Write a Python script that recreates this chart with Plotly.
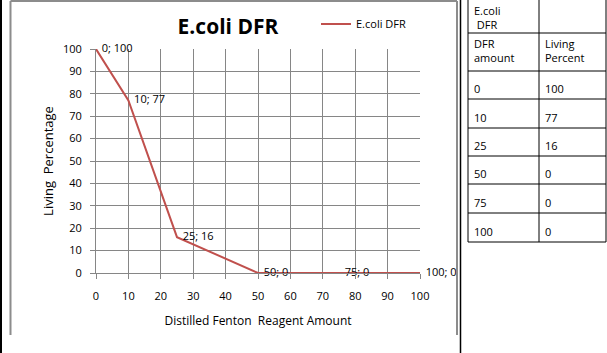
import plotly.graph_objects as go

dfr_amount = [0, 10, 25, 50, 75, 100]
living_percent = [100, 77, 16, 0, 0, 0]
series_name = "E.coli DFR"
x_ticks = [0, 10, 20, 30, 40, 50, 60, 70, 80, 90, 100]
y_ticks = [0, 10, 20, 30, 40, 50, 60, 70, 80, 90, 100]
table_header = [["E.coli<br> DFR", ""], ["DFR<br>amount", "Living<br>Percent"]]

W, H = 607, 353
PL, PR, PT, PB = 96, 420, 49, 273
FONT = "Open Sans"
PAD = "\u00a0\u00a0"
labels = [f"{PAD}{a}; {b}" for a, b in zip(dfr_amount, living_percent)]


def px(x):
    return (x - PL) / (PR - PL)


def py(y):
    return (PB - y) / (PB - PT)


fig = go.Figure()
fig.add_trace(go.Scatter(
    x=dfr_amount, y=living_percent, mode="lines+text", name=series_name,
    line=dict(color="#C0504D", width=2),
    text=labels, textposition="middle right",
    textfont=dict(family=FONT, size=11, color="#000000"),
    cliponaxis=False,
))

grid = "#868686"
fig.update_layout(
    width=W, height=H, autosize=False,
    margin=dict(l=PL, r=W - PR, t=PT, b=H - PB, autoexpand=False),
    paper_bgcolor="white", plot_bgcolor="white",
    font=dict(family=FONT, size=11, color="#000000"),
    title=dict(text="<b>E.coli DFR</b>", x=228 / W, xanchor="center",
               y=1 - 27 / H, yanchor="middle", xref="container", yref="container",
               font=dict(family=FONT, size=21, color="#000000")),
    showlegend=True,
    legend=dict(x=px(316), y=py(24), xanchor="left", yanchor="middle",
                xref="paper", yref="paper", bgcolor="rgba(0,0,0,0)",
                font=dict(family=FONT, size=11), itemwidth=30,
                tracegroupgap=0),
    xaxis=dict(range=[0, 100], tickvals=x_ticks, showgrid=True, gridcolor=grid,
               gridwidth=1, zeroline=False, showline=True, linecolor=grid,
               ticks="outside", ticklen=5, tickcolor=grid,
               ticklabelstandoff=8,
               tickfont=dict(family=FONT, size=11),
               title=dict(text="Distilled Fenton  Reagent Amount",
                          font=dict(family=FONT, size=12), standoff=14)),
    yaxis=dict(range=[0, 100], tickvals=y_ticks, showgrid=True, gridcolor=grid,
               gridwidth=1, zeroline=False, showline=True, linecolor=grid,
               ticks="outside", ticklen=5, tickcolor=grid,
               ticklabelstandoff=6,
               tickfont=dict(family=FONT, size=11),
               title=dict(text="Living  Percentage",
                          font=dict(family=FONT, size=13), standoff=6)),
)

shapes = []
# left black edge
shapes.append(dict(type="rect", xref="paper", yref="paper", x0=px(0), x1=px(2),
                   y0=py(H), y1=py(0), fillcolor="black", line=dict(width=0)))
# chart frame (gray)
for (x0, y0, x1, y1) in [(10.5, 1, 10.5, 335), (10.5, 1, 457, 1), (457, 1, 457, 335)]:
    shapes.append(dict(type="line", xref="paper", yref="paper", x0=px(x0), y0=py(y0),
                       x1=px(x1), y1=py(y1), line=dict(color="#8c8c8c", width=2)))
# black divider
shapes.append(dict(type="line", xref="paper", yref="paper", x0=px(460.5), y0=py(0),
                   x1=px(460.5), y1=py(H), line=dict(color="black", width=1.5)))
# table
row_y = [0, 33, 71, 99, 128, 156, 184, 213, 242]
tx0, tx1, tx2 = 468, 539, 606
for xv in (tx0, tx1, tx2):
    shapes.append(dict(type="line", xref="paper", yref="paper", x0=px(xv), y0=py(0),
                       x1=px(xv), y1=py(row_y[-1]), line=dict(color="black", width=1)))
for yv in row_y[1:]:
    shapes.append(dict(type="line", xref="paper", yref="paper", x0=px(tx0), y0=py(yv),
                       x1=px(tx2), y1=py(yv), line=dict(color="black", width=1)))
fig.update_layout(shapes=shapes)

rows = table_header + [[str(a), str(b)] for a, b in zip(dfr_amount, living_percent)]
anns = []
for i, (c0, c1) in enumerate(rows):
    top, bot = row_y[i], row_y[i + 1]
    for xv, txt in ((tx0 + 4, c0), (tx1 + 4, c1)):
        if not txt:
            continue
        if i < 2:
            yy, anc = top + 1, "top"
        else:
            yy, anc = bot - 1, "bottom"
        anns.append(dict(xref="paper", yref="paper", x=px(xv), y=py(yy),
                         xanchor="left", yanchor=anc, text=txt, showarrow=False,
                         align="left", font=dict(family=FONT, size=11, color="#000000")))
fig.update_layout(annotations=anns)

fig.write_html("out.html")
